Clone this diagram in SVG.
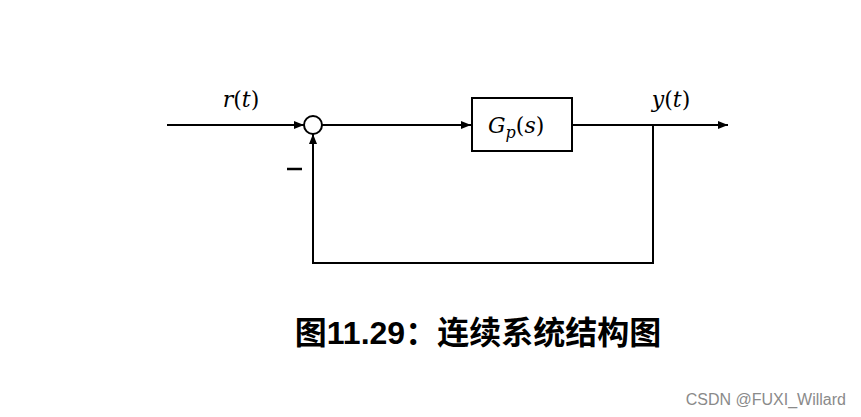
<svg xmlns="http://www.w3.org/2000/svg" width="861" height="417" viewBox="0 0 861 417">
<defs>
<style>
.ln{stroke:#000;stroke-width:2;fill:none}
.m{font-family:"DejaVu Serif","Liberation Serif",serif;font-size:22px;fill:#000}
.i{font-style:italic}
.t{font-family:"Liberation Sans","Noto Sans CJK SC",sans-serif;font-size:32px;font-weight:bold;fill:#000}
.w{font-family:"Liberation Sans",sans-serif;font-size:16px;fill:#8a8a8a}
</style>
<marker id="ah" viewBox="0 0 10 10" refX="10" refY="5" markerWidth="10" markerHeight="10" markerUnits="userSpaceOnUse" orient="auto">
<path d="M0,1 L10,5 L0,9 z" fill="#000"/>
</marker>
</defs>
<rect width="861" height="417" fill="#fff"/>
<g id="connectors">
<line class="ln" x1="167" y1="125" x2="304" y2="125" marker-end="url(#ah)"/>
<line class="ln" x1="322" y1="125" x2="471" y2="125" marker-end="url(#ah)"/>
<line class="ln" x1="572" y1="125" x2="728" y2="125" marker-end="url(#ah)"/>
<polyline class="ln" points="653,125 653,263 313,263 313,134" marker-end="url(#ah)"/>
</g>
<g id="sum">
<circle class="ln" cx="313" cy="125" r="9"/>
<line x1="287" y1="169" x2="302" y2="169" stroke="#000" stroke-width="2.5"/>
</g>
<g id="plant">
<rect class="ln" x="472" y="98" width="100" height="53"/>
<text class="m" x="488" y="133"><tspan class="i">G</tspan><tspan class="i" font-size="16" dy="5">p</tspan><tspan dy="-5">(</tspan><tspan class="i">s</tspan>)</text>
</g>
<g id="labels">
<text class="m" x="241" y="107" text-anchor="middle"><tspan class="i">r</tspan>(<tspan class="i">t</tspan>)</text>
<text class="m" x="671" y="107" text-anchor="middle"><tspan class="i">y</tspan>(<tspan class="i">t</tspan>)</text>
<text class="t" x="478" y="344" text-anchor="middle">图11.29：连续系统结构图</text>
<text class="w" x="846" y="405" text-anchor="end">CSDN @FUXI_Willard</text>
</g>
</svg>
